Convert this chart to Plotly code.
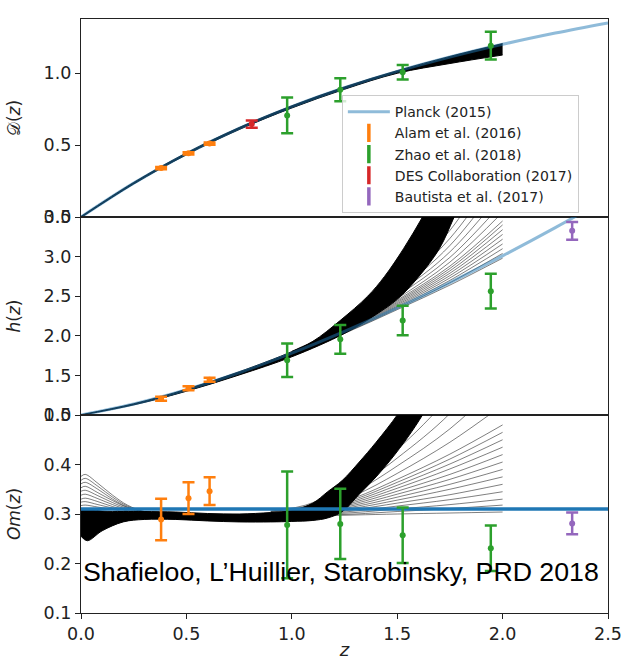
import plotly.graph_objects as go
from plotly.subplots import make_subplots

# ---------------- Planck (2015) flat LCDM reference ----------------
z_planck = [0.0, 0.25, 0.5, 0.75, 1.0, 1.25, 1.5, 1.75, 2.0, 2.25, 2.5]
D_planck = [0.0, 0.235, 0.4394, 0.6155, 0.7668, 0.8976, 1.0113, 1.1110, 1.1992, 1.2777, 1.3482]
h_planck = [1.0, 1.138, 1.318, 1.533, 1.780, 2.055, 2.352, 2.672, 3.010, 3.366, 3.739]
z_om_planck = [0.0, 2.5]
Om_planck = [0.31, 0.31]

# ---------------- BAO measurements ----------------
z_alam = [0.38, 0.51, 0.61]
D_alam = [0.340, 0.442, 0.510]
D_alam_err = [0.008, 0.008, 0.008]
h_alam = [1.206, 1.337, 1.444]
h_alam_err = [0.025, 0.025, 0.025]
Om_alam = [0.289, 0.332, 0.346]
Om_alam_err = [0.042, 0.032, 0.028]

z_zhao = [0.978, 1.23, 1.526, 1.944]
D_zhao = [0.705, 0.884, 1.005, 1.190]
D_zhao_err = [0.124, 0.080, 0.050, 0.096]
h_zhao = [1.691, 1.955, 2.193, 2.564]
h_zhao_err = [0.212, 0.181, 0.186, 0.218]
Om_zhao = [0.278, 0.280, 0.257, 0.231]
Om_zhao_err = [0.108, 0.071, 0.056, 0.046]

z_des = [0.81]
D_des = [0.645]
D_des_err = [0.026]

z_baut = [2.33]
h_baut = [3.325]
h_baut_err = [0.113]
Om_baut = [0.281]
Om_baut_err = [0.022]

# ---------------- reconstructed realisations (envelopes + sparse members) ----------------
# D(z): dense band of realisations
z_D_band = [0.0, 0.25, 0.5, 0.75, 1.0, 1.25, 1.5, 1.75, 2.0]
D_band_hi = [0.004, 0.240, 0.445, 0.621, 0.772, 0.903, 1.016, 1.115, 1.204]
D_band_lo = [-0.004, 0.229, 0.432, 0.607, 0.757, 0.887, 0.998, 1.066, 1.125]

# h(z): dense core of realisations
z_h_hi = [0.0, 0.25, 0.5, 0.75, 1.0, 1.1, 1.228, 1.36, 1.44, 1.53, 1.62, 1.7]
h_band_hi = [1.003, 1.142, 1.325, 1.545, 1.80, 1.93, 2.19, 2.50, 2.75, 3.10, 3.50, 3.90]
z_h_lo = [0.0, 0.25, 0.5, 0.75, 1.0, 1.25, 1.4, 1.5, 1.6, 1.7, 1.77, 1.85]
h_band_lo = [0.997, 1.128, 1.300, 1.505, 1.735, 2.03, 2.27, 2.46, 2.74, 3.10, 3.50, 4.00]

# h(z): individual realisations fanning out at high z
z_h_fan = [1.0, 1.25, 1.5, 1.75, 2.0]
h_fan = [
    [1.760, 2.030, 2.330, 2.640, 2.980],
    [1.760, 2.035, 2.345, 2.670, 3.040],
    [1.765, 2.040, 2.360, 2.700, 3.100],
    [1.765, 2.045, 2.375, 2.730, 3.160],
    [1.770, 2.050, 2.390, 2.760, 3.220],
    [1.770, 2.055, 2.405, 2.790, 3.280],
    [1.770, 2.060, 2.420, 2.820, 3.340],
    [1.775, 2.065, 2.435, 2.850, 3.400],
    [1.775, 2.070, 2.450, 2.880, 3.450],
    [1.780, 2.075, 2.470, 2.930, 3.560],
    [1.780, 2.080, 2.500, 2.990, 3.680],
    [1.785, 2.090, 2.530, 3.060, 3.820],
    [1.790, 2.100, 2.560, 3.140, 3.980],
    [1.790, 2.110, 2.600, 3.230, 4.150],
    [1.795, 2.120, 2.640, 3.330, 4.350],
    [1.800, 2.130, 2.680, 3.430, 4.600],
    [1.800, 2.140, 2.720, 3.540, 4.900],
    [1.805, 2.150, 2.760, 3.650, 5.200],
]

# Om(z): dense core of realisations
z_om_hi = [0.0, 0.03, 0.1, 0.2, 0.3, 0.45, 0.6, 0.75, 0.9, 1.0, 1.1, 1.17, 1.24, 1.32, 1.4, 1.5, 1.56]
om_band_hi = [0.310, 0.310, 0.306, 0.305, 0.305, 0.304, 0.301, 0.300, 0.303, 0.307, 0.322,
              0.345, 0.368, 0.405, 0.445, 0.500, 0.540]
z_om_lo = [0.0, 0.03, 0.1, 0.2, 0.3, 0.45, 0.6, 0.75, 0.9, 1.0, 1.1, 1.17, 1.24, 1.32, 1.4,
           1.47, 1.55, 1.62, 1.7]
om_band_lo = [0.255, 0.246, 0.266, 0.284, 0.289, 0.289, 0.286, 0.284, 0.284, 0.285, 0.287,
              0.292, 0.305, 0.340, 0.375, 0.410, 0.455, 0.500, 0.560]

# Om(z): realisations above the core at low z
z_om_low_fan = [0.0, 0.02, 0.08, 0.15, 0.22, 0.3, 0.4]
om_low_fan = [
    [0.376, 0.380, 0.362, 0.338, 0.318, 0.305, 0.299],
    [0.368, 0.372, 0.356, 0.334, 0.316, 0.305, 0.299],
    [0.361, 0.364, 0.350, 0.330, 0.314, 0.304, 0.299],
    [0.353, 0.356, 0.343, 0.327, 0.313, 0.304, 0.299],
    [0.346, 0.348, 0.337, 0.323, 0.311, 0.303, 0.299],
    [0.338, 0.340, 0.331, 0.319, 0.309, 0.303, 0.300],
    [0.330, 0.332, 0.325, 0.315, 0.307, 0.302, 0.300],
    [0.324, 0.325, 0.319, 0.312, 0.306, 0.302, 0.300],
    [0.317, 0.318, 0.314, 0.309, 0.304, 0.301, 0.300],
]

# Om(z): realisations fanning out at high z
z_om_high_fan = [0.9, 1.1, 1.3, 1.5, 1.75, 2.0]
om_high_fan = [
    [0.295, 0.296, 0.298, 0.300, 0.302, 0.304],
    [0.295, 0.297, 0.300, 0.305, 0.311, 0.318],
    [0.295, 0.298, 0.303, 0.310, 0.319, 0.330],
    [0.296, 0.299, 0.306, 0.316, 0.329, 0.345],
    [0.296, 0.300, 0.309, 0.322, 0.339, 0.360],
    [0.297, 0.301, 0.312, 0.328, 0.350, 0.375],
    [0.297, 0.302, 0.315, 0.334, 0.360, 0.390],
    [0.298, 0.303, 0.318, 0.340, 0.370, 0.405],
    [0.298, 0.304, 0.321, 0.346, 0.380, 0.420],
    [0.299, 0.305, 0.324, 0.352, 0.391, 0.435],
    [0.299, 0.306, 0.327, 0.358, 0.401, 0.450],
    [0.300, 0.307, 0.330, 0.364, 0.411, 0.465],
    [0.300, 0.308, 0.333, 0.370, 0.421, 0.480],
    [0.301, 0.310, 0.338, 0.382, 0.445, 0.520],
    [0.302, 0.312, 0.345, 0.397, 0.472, 0.570],
    [0.303, 0.314, 0.352, 0.413, 0.503, 0.630],
    [0.304, 0.317, 0.360, 0.430, 0.540, 0.700],
    [0.305, 0.320, 0.370, 0.450, 0.580, 0.780],
    [0.306, 0.323, 0.380, 0.470, 0.620, 0.880],
]

x_ticks = [0.0, 0.5, 1.0, 1.5, 2.0, 2.5]
D_ticks = [0.0, 0.5, 1.0]
h_ticks = [1.0, 1.5, 2.0, 2.5, 3.0, 3.5]
Om_ticks = [0.1, 0.2, 0.3, 0.4, 0.5]

# ---------------- styling ----------------
C_ORANGE = "#ff7f0e"
C_GREEN = "#2ca02c"
C_RED = "#d62728"
C_PURPLE = "#9467bd"
C_BLUE = "#1f77b4"
C_BLUE_FADED = "rgba(31,119,180,0.5)"
C_REAL = "rgba(0,0,0,0.5)"
INK = "#222222"
TICK_FONT = dict(family="DejaVu Sans", size=17.5, color=INK)

fig = make_subplots(rows=3, cols=1, shared_xaxes=True, vertical_spacing=0)


def band(z_hi, y_hi, z_lo, y_lo, row):
    # lower envelope first, then the upper envelope filled down to it
    fig.add_trace(go.Scatter(
        x=z_lo, y=y_lo, mode="lines",
        line=dict(color="black", width=1, shape="spline"),
        hoverinfo="skip", showlegend=False), row=row, col=1)
    fig.add_trace(go.Scatter(
        x=z_hi, y=y_hi, mode="lines", fill="tonexty", fillcolor="black",
        line=dict(color="black", width=1, shape="spline"),
        hoverinfo="skip", showlegend=False), row=row, col=1)


def members(z, curves, row):
    for c in curves:
        fig.add_trace(go.Scatter(
            x=z, y=c, mode="lines",
            line=dict(color=C_REAL, width=1, shape="spline"),
            hoverinfo="skip", showlegend=False), row=row, col=1)


def points(z, y, err, color, row, width=2.5):
    fig.add_trace(go.Scatter(
        x=z, y=y, mode="markers",
        marker=dict(color=color, size=6),
        error_y=dict(type="data", array=err, color=color, thickness=width, width=6),
        showlegend=False), row=row, col=1)


# Panel 1: D(z)
band(z_D_band, D_band_hi, z_D_band, D_band_lo, 1)
fig.add_trace(go.Scatter(x=z_planck, y=D_planck, mode="lines", name="Planck (2015)",
                         line=dict(color=C_BLUE_FADED, width=3, shape="spline"),
                         legendrank=1), row=1, col=1)
points(z_alam, D_alam, D_alam_err, C_ORANGE, 1)
points(z_des, D_des, D_des_err, C_RED, 1)
points(z_zhao, D_zhao, D_zhao_err, C_GREEN, 1)

# Panel 2: h(z)
band(z_h_hi, h_band_hi, z_h_lo, h_band_lo, 2)
members(z_h_fan, h_fan, 2)
fig.add_trace(go.Scatter(x=z_planck, y=h_planck, mode="lines",
                         line=dict(color=C_BLUE_FADED, width=3, shape="spline"),
                         showlegend=False), row=2, col=1)
points(z_alam, h_alam, h_alam_err, C_ORANGE, 2)
points(z_zhao, h_zhao, h_zhao_err, C_GREEN, 2)
points(z_baut, h_baut, h_baut_err, C_PURPLE, 2)

# Panel 3: Om(z)
band(z_om_hi, om_band_hi, z_om_lo, om_band_lo, 3)
members(z_om_low_fan, om_low_fan, 3)
members(z_om_high_fan, om_high_fan, 3)
fig.add_trace(go.Scatter(x=z_om_planck, y=Om_planck, mode="lines",
                         line=dict(color=C_BLUE, width=3.5), showlegend=False), row=3, col=1)
points(z_alam, Om_alam, Om_alam_err, C_ORANGE, 3)
points(z_zhao, Om_zhao, Om_zhao_err, C_GREEN, 3)
points(z_baut, Om_baut, Om_baut_err, C_PURPLE, 3)

# Legend entries for the measurement sets
for rank, (name, color) in enumerate([("Alam et al. (2016)", C_ORANGE),
                                      ("Zhao et al. (2018)", C_GREEN),
                                      ("DES Collaboration (2017)", C_RED),
                                      ("Bautista et al. (2017)", C_PURPLE)], start=2):
    fig.add_trace(go.Scatter(x=[None], y=[None], mode="markers", name=name,
                             marker=dict(symbol="line-ns-open", size=13, color=color,
                                         line=dict(color=color, width=3.5)),
                             legendrank=rank), row=1, col=1)

axis_common = dict(showline=True, mirror=True, linecolor=INK, linewidth=1.2,
                   showgrid=False, zeroline=False)
fig.update_xaxes(range=[0, 2.5], ticks="", **axis_common)
fig.update_xaxes(row=3, col=1, ticks="outside", ticklen=5, tickwidth=1.2, tickcolor=INK,
                 tickvals=x_ticks, tickformat=".1f", tickfont=TICK_FONT,
                 title=dict(text="<i>z</i>", font=dict(family="DejaVu Sans", size=18, color=INK),
                            standoff=0))
yaxis_common = dict(ticks="outside", ticklen=5, tickwidth=1.2, tickcolor=INK,
                    tickformat=".1f", tickfont=TICK_FONT, **axis_common)
title_font = dict(family="DejaVu Sans", size=17, color=INK)
fig.update_yaxes(row=1, col=1, range=[0, 1.375], tickvals=D_ticks,
                 title=dict(text="𝒟(<i>z</i>)", font=title_font, standoff=18), **yaxis_common)
fig.update_yaxes(row=2, col=1, range=[1.0, 3.5], tickvals=h_ticks,
                 title=dict(text="<i>h</i>(<i>z</i>)", font=title_font, standoff=18), **yaxis_common)
fig.update_yaxes(row=3, col=1, range=[0.1, 0.5], tickvals=Om_ticks,
                 title=dict(text="<i>Om</i>(<i>z</i>)", font=title_font, standoff=18), **yaxis_common)

fig.add_annotation(xref="x3", yref="y3", x=0.0, y=0.182, xanchor="left", yanchor="middle",
                   text="Shafieloo, L’Huillier, Starobinsky, PRD 2018", showarrow=False,
                   font=dict(family="Liberation Sans, Arial", size=26.7, color="black"))

fig.update_layout(
    width=631, height=666,
    margin=dict(l=81, r=17, t=9, b=49),
    paper_bgcolor="white", plot_bgcolor="white",
    legend=dict(x=0.495, y=0.872, xanchor="left", yanchor="top", traceorder="normal",
                font=dict(family="DejaVu Sans", size=14, color=INK),
                bgcolor="rgba(255,255,255,0.8)", bordercolor="#cccccc", borderwidth=1,
                tracegroupgap=0, itemwidth=42),
)

fig.write_html("out.html")
